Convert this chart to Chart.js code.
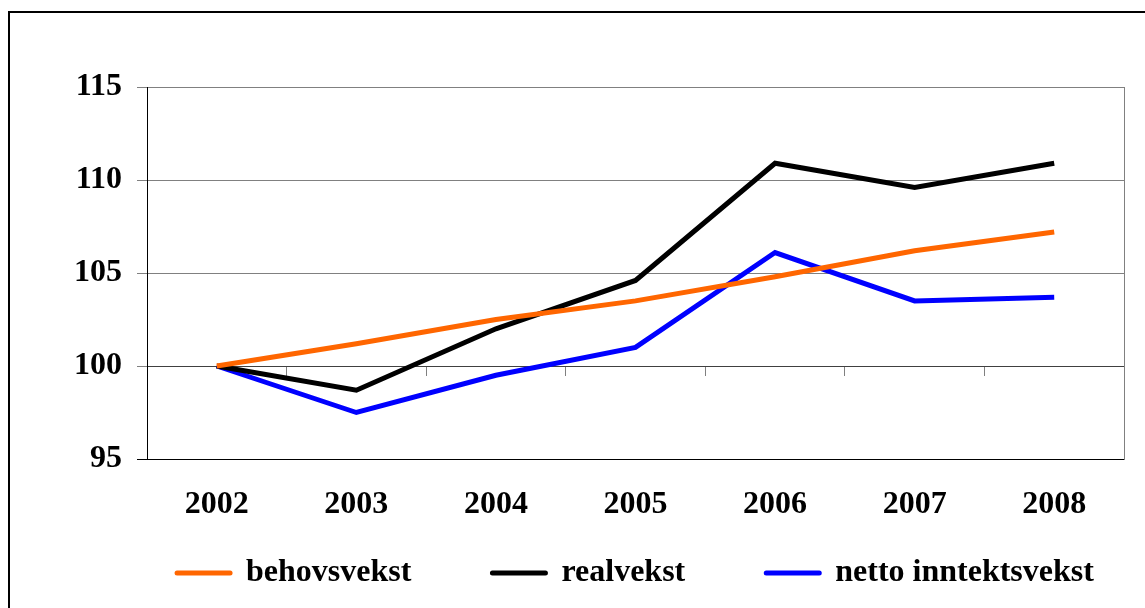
<!DOCTYPE html>
<html lang="no">
<head>
    <meta charset="UTF-8">
    <title>Behovsvekst, realvekst og netto inntektsvekst</title>
    <style>
        html, body { margin: 0; padding: 0; background: #fff; }
        #wrap { width: 1145px; height: 608px; }
    </style>
    <script src="https://cdn.jsdelivr.net/npm/chart.js"></script>
</head>
<body>
<div id="wrap"><canvas id="chart" width="1145" height="608"></canvas></div>
<script>
    // Data lest av figuren (indeks, 2002 = 100)
    const years = ['2002', '2003', '2004', '2005', '2006', '2007', '2008'];
    const behovsvekst = [100, 101.2, 102.5, 103.5, 104.8, 106.2, 107.2];
    const realvekst = [100, 98.7, 102.0, 104.6, 110.9, 109.6, 110.9];
    const nettoInntektsvekst = [100, 97.5, 99.5, 101.0, 106.1, 103.5, 103.7];
    const yTicks = [95, 100, 105, 110, 115];

    const font = { family: '"Liberation Serif", "Times New Roman", serif', size: 32, weight: 'bold' };

    // ramme rundt hele figuren
    const framePlugin = {
        id: 'frame',
        beforeDraw(chart) {
            const ctx = chart.ctx;
            ctx.save();
            ctx.strokeStyle = '#000';
            ctx.lineWidth = 2;
            ctx.strokeRect(9, 12, chart.width + 10, chart.height + 10);
            ctx.restore();
        }
    };

    const lineSet = (label, data, color) => ({
        label: label,
        data: data,
        borderColor: color,
        backgroundColor: color,
        borderWidth: 5,
        pointRadius: 0,
        tension: 0,
        fill: false,
        xAxisID: 'x',
        yAxisID: 'y'
    });

    new Chart(document.getElementById('chart'), {
        type: 'line',
        data: {
            labels: years,
            datasets: [
                lineSet('behovsvekst', behovsvekst, '#FF6600'),
                lineSet('realvekst', realvekst, '#000000'),
                lineSet('netto inntektsvekst', nettoInntektsvekst, '#0000FF')
            ]
        },
        options: {
            responsive: false,
            animation: false,
            layout: { padding: { top: 87, left: 0, right: 0, bottom: 9 } },
            plugins: {
                title: { display: false },
                tooltip: { enabled: false },
                legend: {
                    position: 'bottom',
                    fullSize: false,
                    labels: {
                        font: font,
                        color: '#000',
                        boxWidth: 53,
                        boxHeight: 0,
                        padding: 25,
                        generateLabels(chart) {
                            const items = Chart.defaults.plugins.legend.labels.generateLabels(chart);
                            items.forEach((it, i) => {
                                it.lineJoin = 'round';
                                it.lineWidth = 5;
                                // litt ekstra luft mellom forklaringene
                                if (i < items.length - 1) it.text = it.text + '       ';
                            });
                            return items;
                        }
                    }
                }
            },
            scales: {
                x: {
                    type: 'category',
                    position: 'bottom',
                    offset: true,
                    grid: { display: false, drawTicks: false },
                    border: { display: false },
                    ticks: { font: font, color: '#000', padding: 27, maxRotation: 0 },
                    afterFit(s) { s.height = 73; }
                },
                xMid: {
                    type: 'category',
                    position: { y: 100 },
                    offset: true,
                    grid: { offset: true, drawOnChartArea: false, drawTicks: true, tickLength: 9, color: '#808080' },
                    border: { display: true, color: '#404040', width: 1 },
                    ticks: { display: false }
                },
                y: {
                    min: 95,
                    max: 115,
                    afterBuildTicks(s) { s.ticks = yTicks.map(v => ({ value: v })); },
                    grid: {
                        color: ctx => (ctx.tick && ctx.tick.value === 95 ? '#000' : '#808080'),
                        tickLength: 10,
                        lineWidth: 1
                    },
                    border: { display: true, color: '#000', width: 1 },
                    ticks: { font: font, color: '#000', padding: 15 },
                    afterFit(s) { s.width = 147; }
                },
                y2: {
                    position: 'right',
                    min: 95,
                    max: 115,
                    grid: { display: false },
                    border: { display: true, color: '#808080', width: 1 },
                    ticks: { display: false },
                    afterFit(s) { s.width = 21; }
                }
            }
        },
        plugins: [framePlugin]
    });
</script>
</body>
</html>
